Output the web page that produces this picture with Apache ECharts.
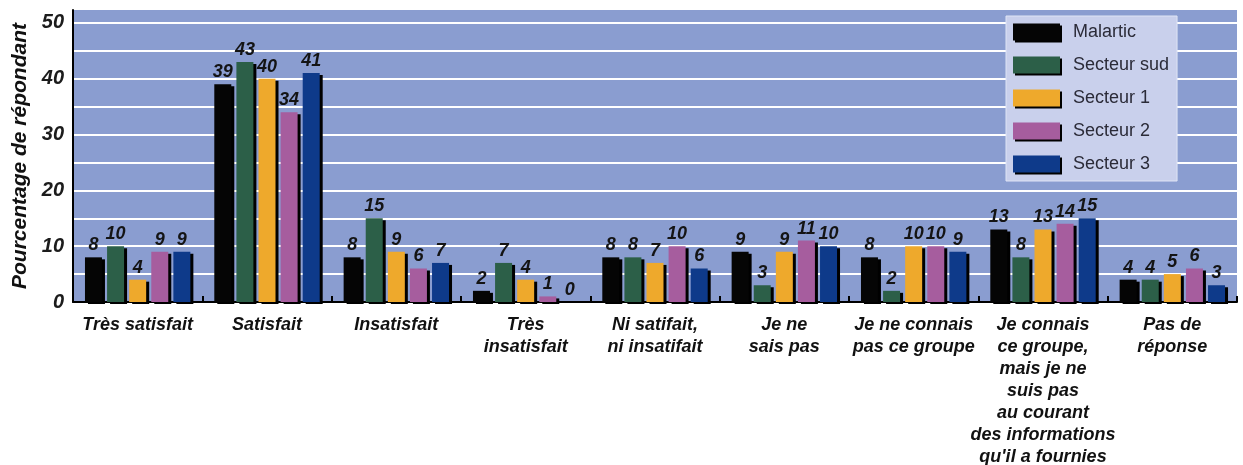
<!DOCTYPE html>
<html>
<head>
<meta charset="utf-8">
<script src="https://cdn.jsdelivr.net/npm/echarts@6/dist/echarts.min.js"></script>
<style>
  html, body { margin: 0; padding: 0; background: #fff; }
  #chart { width: 1243px; height: 465px; }
</style>
</head>
<body>
<div id="chart"></div>
<script>
    var categories = [
        'Très satisfait',
        'Satisfait',
        'Insatisfait',
        'Très\ninsatisfait',
        'Ni satifait,\nni insatifait',
        'Je ne\nsais pas',
        'Je ne connais\npas ce groupe',
        'Je connais\nce groupe,\nmais je ne\nsuis pas\nau courant\ndes informations\nqu\'il a fournies',
        'Pas de\nréponse'
    ];
    var seriesNames = ['Malartic', 'Secteur sud', 'Secteur 1', 'Secteur 2', 'Secteur 3'];
    var malartic = [8, 39, 8, 2, 8, 9, 8, 13, 4];
    var secteurSud = [10, 43, 15, 7, 8, 3, 2, 8, 4];
    var secteur1 = [4, 40, 9, 4, 7, 9, 10, 13, 5];
    var secteur2 = [9, 34, 6, 1, 10, 11, 10, 14, 6];
    var secteur3 = [9, 41, 7, 0, 6, 10, 9, 15, 3];
    var colors = ['#050505', '#2c5f48', '#eea92c', '#a65d9e', '#0e3a8a'];

    var seriesData = [malartic, secteurSud, secteur1, secteur2, secteur3];
    var fontItalic = {fontFamily: 'Liberation Sans, Arial, sans-serif', fontStyle: 'italic', fontWeight: 'bold'};

    var myChart = echarts.init(document.getElementById('chart'));

    // grille : une ligne blanche tous les 5, sauf la bordure du haut
    var lineColors = [];
    for (var i = 0; i < 11; i++) lineColors.push('#ffffff');
    lineColors.push('rgba(0,0,0,0)');

    myChart.setOption({
        animation: false,
        grid: {
            left: 73, right: 6, top: 10, bottom: 163,
            outerBoundsMode: 'none',
            containLabel: false,
            show: true,
            backgroundColor: '#8a9dd0',
            borderWidth: 0
        },
        legend: {
            orient: 'vertical',
            left: 1006, top: 16,
            padding: [7, 8, 8, 7],
            itemWidth: 47, itemHeight: 17, itemGap: 15,
            backgroundColor: '#c9d0ec',
            borderColor: '#dfe4f5', borderWidth: 1,
            icon: 'rect',
            itemStyle: {shadowColor: '#000', shadowOffsetX: 2, shadowOffsetY: 2, shadowBlur: 0},
            textStyle: {fontFamily: 'Liberation Sans, Arial, sans-serif', fontSize: 18, color: '#2b2b38', padding: [0, 0, 0, 8]},
            data: seriesNames
        },
        xAxis: {
            type: 'category',
            data: categories,
            axisLine: {lineStyle: {color: '#000', width: 2}},
            axisTick: {show: true, inside: true, length: 6, lineStyle: {color: '#000', width: 2}},
            axisLabel: Object.assign({interval: 0, margin: 12, fontSize: 18, lineHeight: 22, color: '#111'}, fontItalic)
        },
        yAxis: {
            type: 'value',
            min: 0, max: 52.3, interval: 5,
            name: 'Pourcentage de répondant',
            nameLocation: 'middle',
            nameGap: 39,
            nameTextStyle: Object.assign({fontSize: 21, color: '#111'}, fontItalic),
            axisLine: {show: true, lineStyle: {color: '#000', width: 2}},
            axisTick: {show: false},
            axisLabel: Object.assign({
                fontSize: 20, color: '#1c1c1c', margin: 9,
                formatter: function (v) { return v % 10 === 0 ? String(v) : ''; }
            }, fontItalic),
            splitLine: {show: true, lineStyle: {color: lineColors, width: 2}}
        },
        series: seriesData.map(function (d, idx) {
            return {
                name: seriesNames[idx],
                type: 'bar',
                data: d,
                barWidth: 17,
                barGap: '30%',
                itemStyle: {
                    color: colors[idx],
                    shadowColor: '#000', shadowOffsetX: 3, shadowOffsetY: 2, shadowBlur: 0
                },
                label: Object.assign({show: true, position: 'top', distance: 3, fontSize: 18, color: '#141414'}, fontItalic)
            };
        })
    });
</script>
</body>
</html>
